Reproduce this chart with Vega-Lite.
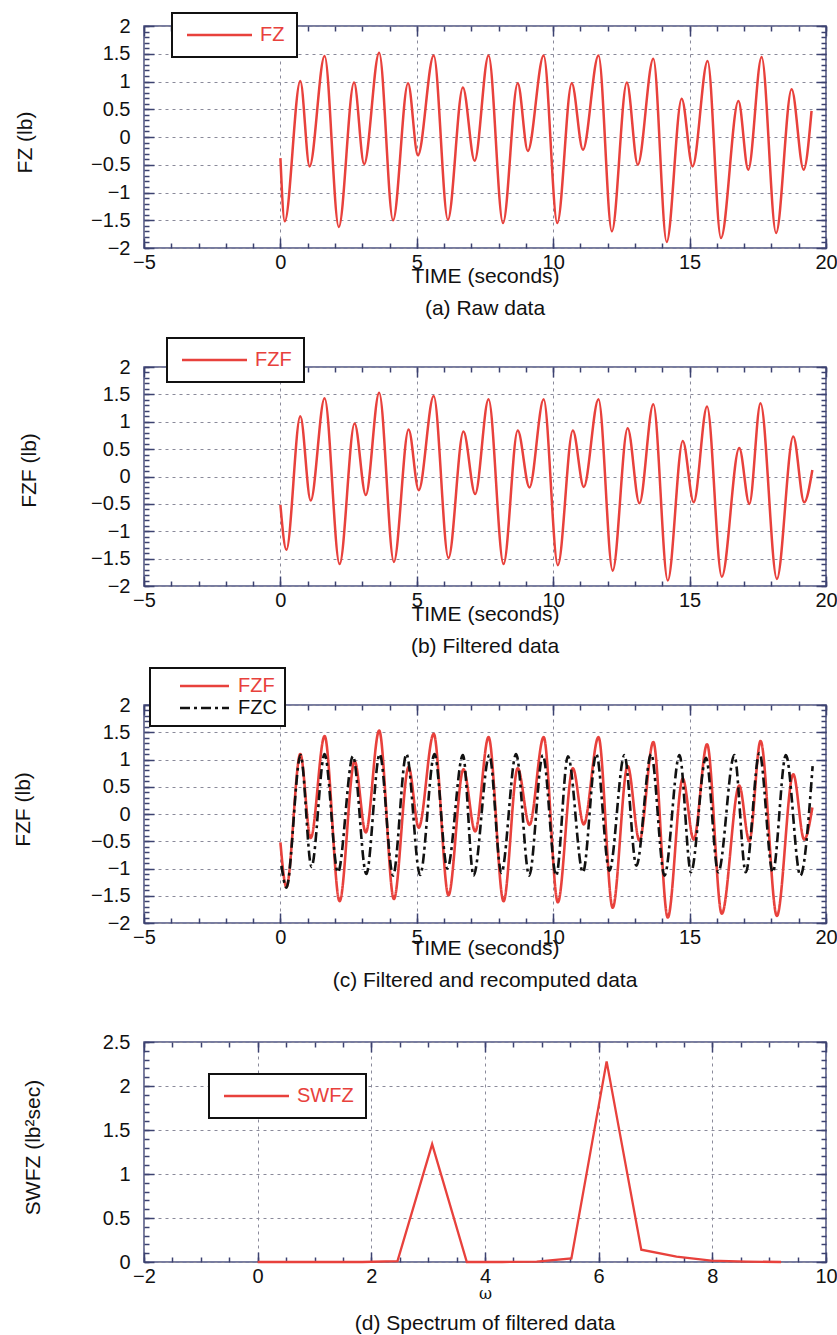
{
  "$schema": "https://vega.github.io/schema/vega-lite/v6.json",
  "background": "white",
  "padding": {"left": 11, "top": 11, "right": 2, "bottom": 2},
  "bounds": "flush",
  "spacing": 119,
  "resolve": {"scale": {"color": "independent", "strokeDash": "independent"}, "legend": {"color": "independent", "strokeDash": "independent"}},
  "config": {
    "font": "Liberation Sans",
    "view": {"stroke": "#4c5280", "strokeWidth": 1.5},
    "axis": {"domain": false, "grid": false, "labelFlush": false, "labelOverlap": false, "tickColor": "#3c4270", "tickWidth": 1.5, "gridColor": "#8a8a9a", "gridDash": [3, 4], "gridWidth": 1, "labelFont": "Liberation Sans", "labelFontSize": 20, "labelColor": "#111111", "titleFont": "Liberation Sans", "titleFontSize": 21, "titleFontWeight": "normal", "titleColor": "#111111"},
    "title": {"orient": "bottom", "anchor": "middle", "frame": "group", "fontSize": 21, "fontWeight": "normal", "font": "Liberation Sans", "color": "#111111", "offset": 12, "baseline": "top"},
    "legend": {"labelFont": "Liberation Sans", "labelFontSize": 20, "strokeColor": "#111111", "fillColor": "white", "padding": 12, "symbolStrokeWidth": 2.5, "symbolSize": 16, "symbolOffset": -5, "labelOffset": 61, "rowPadding": 2, "cornerRadius": 0}
  },
  "datasets": {
    "waves": [
      {"s": "FZ", "t": 0, "v": -0.38}, {"s": "FZ", "t": 0.16, "v": -1.52}, {"s": "FZ", "t": 0.73, "v": 1.01}, {"s": "FZ", "t": 1.07, "v": -0.53}, {"s": "FZ", "t": 1.62, "v": 1.46}, {"s": "FZ", "t": 2.14, "v": -1.62}, {"s": "FZ", "t": 2.7, "v": 0.98}, {"s": "FZ", "t": 3.07, "v": -0.49}, {"s": "FZ", "t": 3.62, "v": 1.52}, {"s": "FZ", "t": 4.13, "v": -1.5}, {"s": "FZ", "t": 4.68, "v": 0.97}, {"s": "FZ", "t": 5.04, "v": -0.33}, {"s": "FZ", "t": 5.62, "v": 1.47}, {"s": "FZ", "t": 6.14, "v": -1.49}, {"s": "FZ", "t": 6.69, "v": 0.89}, {"s": "FZ", "t": 7.12, "v": -0.43}, {"s": "FZ", "t": 7.63, "v": 1.47}, {"s": "FZ", "t": 8.16, "v": -1.55}, {"s": "FZ", "t": 8.7, "v": 0.97}, {"s": "FZ", "t": 9.07, "v": -0.25}, {"s": "FZ", "t": 9.65, "v": 1.47}, {"s": "FZ", "t": 10.15, "v": -1.55}, {"s": "FZ", "t": 10.68, "v": 0.97}, {"s": "FZ", "t": 11.09, "v": -0.23}, {"s": "FZ", "t": 11.66, "v": 1.47}, {"s": "FZ", "t": 12.15, "v": -1.7}, {"s": "FZ", "t": 12.7, "v": 0.98}, {"s": "FZ", "t": 13.1, "v": -0.5}, {"s": "FZ", "t": 13.67, "v": 1.41}, {"s": "FZ", "t": 14.16, "v": -1.89}, {"s": "FZ", "t": 14.71, "v": 0.69}, {"s": "FZ", "t": 15.11, "v": -0.53}, {"s": "FZ", "t": 15.66, "v": 1.37}, {"s": "FZ", "t": 16.15, "v": -1.82}, {"s": "FZ", "t": 16.79, "v": 0.65}, {"s": "FZ", "t": 17.15, "v": -0.59}, {"s": "FZ", "t": 17.64, "v": 1.44}, {"s": "FZ", "t": 18.17, "v": -1.73}, {"s": "FZ", "t": 18.74, "v": 0.86}, {"s": "FZ", "t": 19.18, "v": -0.59}, {"s": "FZ", "t": 19.47, "v": 0.47},
      {"s": "FZF", "t": 0, "v": -0.52}, {"s": "FZF", "t": 0.22, "v": -1.34}, {"s": "FZF", "t": 0.73, "v": 1.1}, {"s": "FZF", "t": 1.11, "v": -0.44}, {"s": "FZF", "t": 1.62, "v": 1.43}, {"s": "FZF", "t": 2.17, "v": -1.6}, {"s": "FZF", "t": 2.72, "v": 0.97}, {"s": "FZF", "t": 3.13, "v": -0.34}, {"s": "FZF", "t": 3.62, "v": 1.53}, {"s": "FZF", "t": 4.16, "v": -1.56}, {"s": "FZF", "t": 4.7, "v": 0.86}, {"s": "FZF", "t": 5.07, "v": -0.25}, {"s": "FZF", "t": 5.62, "v": 1.47}, {"s": "FZF", "t": 6.16, "v": -1.49}, {"s": "FZF", "t": 6.71, "v": 0.82}, {"s": "FZF", "t": 7.14, "v": -0.32}, {"s": "FZF", "t": 7.63, "v": 1.41}, {"s": "FZF", "t": 8.18, "v": -1.6}, {"s": "FZF", "t": 8.7, "v": 0.84}, {"s": "FZF", "t": 9.13, "v": -0.2}, {"s": "FZF", "t": 9.65, "v": 1.41}, {"s": "FZF", "t": 10.17, "v": -1.62}, {"s": "FZF", "t": 10.72, "v": 0.84}, {"s": "FZF", "t": 11.12, "v": -0.19}, {"s": "FZF", "t": 11.66, "v": 1.41}, {"s": "FZF", "t": 12.18, "v": -1.72}, {"s": "FZF", "t": 12.73, "v": 0.88}, {"s": "FZF", "t": 13.16, "v": -0.49}, {"s": "FZF", "t": 13.67, "v": 1.32}, {"s": "FZF", "t": 14.2, "v": -1.9}, {"s": "FZF", "t": 14.75, "v": 0.65}, {"s": "FZF", "t": 15.15, "v": -0.47}, {"s": "FZF", "t": 15.64, "v": 1.28}, {"s": "FZF", "t": 16.18, "v": -1.83}, {"s": "FZF", "t": 16.82, "v": 0.52}, {"s": "FZF", "t": 17.19, "v": -0.5}, {"s": "FZF", "t": 17.6, "v": 1.34}, {"s": "FZF", "t": 18.2, "v": -1.87}, {"s": "FZF", "t": 18.8, "v": 0.73}, {"s": "FZF", "t": 19.2, "v": -0.47}, {"s": "FZF", "t": 19.5, "v": 0.12},
      {"s": "FZC", "t": 0.04, "v": -0.95}, {"s": "FZC", "t": 0.22, "v": -1.35}, {"s": "FZC", "t": 0.74, "v": 1.08}, {"s": "FZC", "t": 1.14, "v": -0.97}, {"s": "FZC", "t": 1.62, "v": 1.1}, {"s": "FZC", "t": 2.11, "v": -1.07}, {"s": "FZC", "t": 2.66, "v": 1.06}, {"s": "FZC", "t": 3.15, "v": -1.1}, {"s": "FZC", "t": 3.64, "v": 1.1}, {"s": "FZC", "t": 4.13, "v": -1.13}, {"s": "FZC", "t": 4.62, "v": 1.1}, {"s": "FZC", "t": 5.12, "v": -1.12}, {"s": "FZC", "t": 5.65, "v": 1.1}, {"s": "FZC", "t": 6.12, "v": -1.0}, {"s": "FZC", "t": 6.69, "v": 1.08}, {"s": "FZC", "t": 7.08, "v": -1.13}, {"s": "FZC", "t": 7.66, "v": 1.08}, {"s": "FZC", "t": 8.1, "v": -1.08}, {"s": "FZC", "t": 8.64, "v": 1.1}, {"s": "FZC", "t": 9.12, "v": -1.13}, {"s": "FZC", "t": 9.62, "v": 1.08}, {"s": "FZC", "t": 10.11, "v": -1.13}, {"s": "FZC", "t": 10.54, "v": 1.06}, {"s": "FZC", "t": 11.09, "v": -1.07}, {"s": "FZC", "t": 11.58, "v": 1.1}, {"s": "FZC", "t": 12.06, "v": -1.04}, {"s": "FZC", "t": 12.61, "v": 1.08}, {"s": "FZC", "t": 13.05, "v": -0.95}, {"s": "FZC", "t": 13.59, "v": 1.1}, {"s": "FZC", "t": 14.08, "v": -1.13}, {"s": "FZC", "t": 14.63, "v": 1.08}, {"s": "FZC", "t": 15.05, "v": -1.07}, {"s": "FZC", "t": 15.6, "v": 1.03}, {"s": "FZC", "t": 16.05, "v": -1.07}, {"s": "FZC", "t": 16.64, "v": 1.08}, {"s": "FZC", "t": 17.06, "v": -1.07}, {"s": "FZC", "t": 17.56, "v": 1.12}, {"s": "FZC", "t": 18.05, "v": -1.07}, {"s": "FZC", "t": 18.53, "v": 1.08}, {"s": "FZC", "t": 19.06, "v": -1.13}, {"s": "FZC", "t": 19.51, "v": 0.88}
    ],
    "spectrum": [
      {"s": "SWFZ", "w": 0, "S": 0}, {"s": "SWFZ", "w": 0.61, "S": 0}, {"s": "SWFZ", "w": 1.23, "S": 0}, {"s": "SWFZ", "w": 1.84, "S": 0}, {"s": "SWFZ", "w": 2.46, "S": 0.01}, {"s": "SWFZ", "w": 3.07, "S": 1.34}, {"s": "SWFZ", "w": 3.68, "S": 0}, {"s": "SWFZ", "w": 4.3, "S": 0}, {"s": "SWFZ", "w": 4.91, "S": 0.005}, {"s": "SWFZ", "w": 5.52, "S": 0.04}, {"s": "SWFZ", "w": 6.14, "S": 2.28}, {"s": "SWFZ", "w": 6.75, "S": 0.14}, {"s": "SWFZ", "w": 7.37, "S": 0.06}, {"s": "SWFZ", "w": 7.98, "S": 0.015}, {"s": "SWFZ", "w": 8.6, "S": 0.005}, {"s": "SWFZ", "w": 9.21, "S": 0}
    ]
  },
  "vconcat": [
    {
      "width": 682, "height": 222,
      "title": {"text": "(a) Raw data"},
      "data": {"name": "waves"},
      "transform": [{"filter": "datum.s === 'FZ'"}],
      "resolve": {"axis": {"x": "independent", "y": "independent"}},
      "layer": [
        {
          "mark": {"type": "line", "interpolate": "monotone", "strokeWidth": 2.5},
          "encoding": {
            "x": {"field": "t", "type": "quantitative", "scale": {"domain": [-5, 20], "nice": false, "zero": false},
                  "axis": {"orient": "bottom", "values": [-5, 0, 5, 10, 15, 20], "labelExpr": "format(datum.value, '~g')", "grid": true, "tickSize": -10, "labelPadding": 14, "title": "TIME (seconds)", "titleY": 34, "titleBaseline": "alphabetic"}},
            "y": {"field": "v", "type": "quantitative", "scale": {"domain": [-2, 2], "nice": false, "zero": false},
                  "axis": {"orient": "left", "values": [-2, -1.5, -1, -0.5, 0, 0.5, 1, 1.5, 2], "labelExpr": "format(datum.value, '~g')", "grid": true, "tickSize": -10, "labelPadding": 24, "title": "FZ (lb)", "titleX": -119, "titleY": 116, "titleAngle": -90, "titleAlign": "center", "titleBaseline": "middle"}},
            "color": {"field": "s", "type": "nominal", "scale": {"domain": ["FZ"], "range": ["#e8413c"]},
                      "legend": {"title": null, "orient": "none", "legendX": 28, "legendY": -13, "symbolType": "M-1,0H31.5", "labelColor": "#e8413c", "encode": {"legend": {"update": {"strokeWidth": {"value": 2}}}}}}
          }
        },
        {
          "mark": {"type": "line", "strokeOpacity": 0},
          "encoding": {
            "x": {"field": "t", "type": "quantitative", "scale": {"domain": [-5, 20], "nice": false, "zero": false},
                  "axis": {"orient": "bottom", "values": [-5,-4,-3,-2,-1,0,1,2,3,4,5,6,7,8,9,10,11,12,13,14,15,16,17,18,19,20], "labels": false, "tickSize": -5, "title": null}},
            "y": {"field": "v", "type": "quantitative", "scale": {"domain": [-2, 2], "nice": false, "zero": false},
                  "axis": {"orient": "left", "values": [-2,-1.9,-1.8,-1.7,-1.6,-1.5,-1.4,-1.3,-1.2,-1.1,-1,-0.9,-0.8,-0.7,-0.6,-0.5,-0.4,-0.3,-0.2,-0.1,0,0.1,0.2,0.3,0.4,0.5,0.6,0.7,0.8,0.9,1,1.1,1.2,1.3,1.4,1.5,1.6,1.7,1.8,1.9,2], "labels": false, "tickSize": -5, "title": null}}
          }
        },
        {
          "mark": {"type": "line", "strokeOpacity": 0},
          "encoding": {
            "x": {"field": "t", "type": "quantitative", "scale": {"domain": [-5, 20], "nice": false, "zero": false},
                  "axis": {"orient": "top", "values": [-5, 0, 5, 10, 15, 20], "labels": false, "tickSize": -10, "title": null}},
            "y": {"field": "v", "type": "quantitative", "scale": {"domain": [-2, 2], "nice": false, "zero": false},
                  "axis": {"orient": "right", "values": [-2, -1.5, -1, -0.5, 0, 0.5, 1, 1.5, 2], "labels": false, "tickSize": -10, "title": null}}
          }
        },
        {
          "mark": {"type": "line", "strokeOpacity": 0},
          "encoding": {
            "x": {"field": "t", "type": "quantitative", "scale": {"domain": [-5, 20], "nice": false, "zero": false},
                  "axis": {"orient": "top", "values": [-5,-4,-3,-2,-1,0,1,2,3,4,5,6,7,8,9,10,11,12,13,14,15,16,17,18,19,20], "labels": false, "tickSize": -5, "title": null}},
            "y": {"field": "v", "type": "quantitative", "scale": {"domain": [-2, 2], "nice": false, "zero": false},
                  "axis": {"orient": "right", "values": [-2,-1.9,-1.8,-1.7,-1.6,-1.5,-1.4,-1.3,-1.2,-1.1,-1,-0.9,-0.8,-0.7,-0.6,-0.5,-0.4,-0.3,-0.2,-0.1,0,0.1,0.2,0.3,0.4,0.5,0.6,0.7,0.8,0.9,1,1.1,1.2,1.3,1.4,1.5,1.6,1.7,1.8,1.9,2], "labels": false, "tickSize": -5, "title": null}}
          }
        }
      ]
    },
    {
      "width": 682, "height": 219,
      "title": {"text": "(b) Filtered data"},
      "data": {"name": "waves"},
      "transform": [{"filter": "datum.s === 'FZF'"}],
      "resolve": {"axis": {"x": "independent", "y": "independent"}},
      "layer": [
        {
          "mark": {"type": "line", "interpolate": "monotone", "strokeWidth": 2.5},
          "encoding": {
            "x": {"field": "t", "type": "quantitative", "scale": {"domain": [-5, 20], "nice": false, "zero": false},
                  "axis": {"orient": "bottom", "values": [-5, 0, 5, 10, 15, 20], "labelExpr": "format(datum.value, '~g')", "grid": true, "tickSize": -10, "labelPadding": 14, "title": "TIME (seconds)", "titleY": 34, "titleBaseline": "alphabetic"}},
            "y": {"field": "v", "type": "quantitative", "scale": {"domain": [-2, 2], "nice": false, "zero": false},
                  "axis": {"orient": "left", "values": [-2, -1.5, -1, -0.5, 0, 0.5, 1, 1.5, 2], "labelExpr": "format(datum.value, '~g')", "grid": true, "tickSize": -10, "labelPadding": 24, "title": "FZF (lb)", "titleX": -115, "titleY": 103, "titleAngle": -90, "titleAlign": "center", "titleBaseline": "middle"}},
            "color": {"field": "s", "type": "nominal", "scale": {"domain": ["FZF"], "range": ["#e8413c"]},
                      "legend": {"title": null, "orient": "none", "legendX": 23, "legendY": -29, "symbolType": "M-1,0H31.5", "labelColor": "#e8413c", "encode": {"legend": {"update": {"strokeWidth": {"value": 2}}}}}}
          }
        },
        {
          "mark": {"type": "line", "strokeOpacity": 0},
          "encoding": {
            "x": {"field": "t", "type": "quantitative", "scale": {"domain": [-5, 20], "nice": false, "zero": false},
                  "axis": {"orient": "bottom", "values": [-5,-4,-3,-2,-1,0,1,2,3,4,5,6,7,8,9,10,11,12,13,14,15,16,17,18,19,20], "labels": false, "tickSize": -5, "title": null}},
            "y": {"field": "v", "type": "quantitative", "scale": {"domain": [-2, 2], "nice": false, "zero": false},
                  "axis": {"orient": "left", "values": [-2,-1.9,-1.8,-1.7,-1.6,-1.5,-1.4,-1.3,-1.2,-1.1,-1,-0.9,-0.8,-0.7,-0.6,-0.5,-0.4,-0.3,-0.2,-0.1,0,0.1,0.2,0.3,0.4,0.5,0.6,0.7,0.8,0.9,1,1.1,1.2,1.3,1.4,1.5,1.6,1.7,1.8,1.9,2], "labels": false, "tickSize": -5, "title": null}}
          }
        },
        {
          "mark": {"type": "line", "strokeOpacity": 0},
          "encoding": {
            "x": {"field": "t", "type": "quantitative", "scale": {"domain": [-5, 20], "nice": false, "zero": false},
                  "axis": {"orient": "top", "values": [-5, 0, 5, 10, 15, 20], "labels": false, "tickSize": -10, "title": null}},
            "y": {"field": "v", "type": "quantitative", "scale": {"domain": [-2, 2], "nice": false, "zero": false},
                  "axis": {"orient": "right", "values": [-2, -1.5, -1, -0.5, 0, 0.5, 1, 1.5, 2], "labels": false, "tickSize": -10, "title": null}}
          }
        },
        {
          "mark": {"type": "line", "strokeOpacity": 0},
          "encoding": {
            "x": {"field": "t", "type": "quantitative", "scale": {"domain": [-5, 20], "nice": false, "zero": false},
                  "axis": {"orient": "top", "values": [-5,-4,-3,-2,-1,0,1,2,3,4,5,6,7,8,9,10,11,12,13,14,15,16,17,18,19,20], "labels": false, "tickSize": -5, "title": null}},
            "y": {"field": "v", "type": "quantitative", "scale": {"domain": [-2, 2], "nice": false, "zero": false},
                  "axis": {"orient": "right", "values": [-2,-1.9,-1.8,-1.7,-1.6,-1.5,-1.4,-1.3,-1.2,-1.1,-1,-0.9,-0.8,-0.7,-0.6,-0.5,-0.4,-0.3,-0.2,-0.1,0,0.1,0.2,0.3,0.4,0.5,0.6,0.7,0.8,0.9,1,1.1,1.2,1.3,1.4,1.5,1.6,1.7,1.8,1.9,2], "labels": false, "tickSize": -5, "title": null}}
          }
        }
      ]
    },
    {
      "width": 682, "height": 218,
      "title": {"text": "(c) Filtered and recomputed data"},
      "data": {"name": "waves"},
      "transform": [{"filter": "datum.s === 'FZF' || datum.s === 'FZC'"}],
      "resolve": {"axis": {"x": "independent", "y": "independent"}},
      "layer": [
        {
          "mark": {"type": "line", "interpolate": "monotone", "strokeWidth": 2.6},
          "encoding": {
            "x": {"field": "t", "type": "quantitative", "scale": {"domain": [-5, 20], "nice": false, "zero": false},
                  "axis": {"orient": "bottom", "values": [-5, 0, 5, 10, 15, 20], "labelExpr": "format(datum.value, '~g')", "grid": true, "tickSize": -10, "labelPadding": 14, "title": "TIME (seconds)", "titleY": 31, "titleBaseline": "alphabetic"}},
            "y": {"field": "v", "type": "quantitative", "scale": {"domain": [-2, 2], "nice": false, "zero": false},
                  "axis": {"orient": "left", "values": [-2, -1.5, -1, -0.5, 0, 0.5, 1, 1.5, 2], "labelExpr": "format(datum.value, '~g')", "grid": true, "tickSize": -10, "labelPadding": 24, "title": "FZF (lb)", "titleX": -121, "titleY": 104, "titleAngle": -90, "titleAlign": "center", "titleBaseline": "middle"}},
            "color": {"field": "s", "type": "nominal", "scale": {"domain": ["FZF", "FZC"], "range": ["#e8413c", "#111111"]},
                      "legend": {"title": null, "orient": "none", "legendX": 6, "legendY": -37, "padding": 8, "symbolType": "M-1,0H23.5", "symbolOffset": 14, "labelOffset": 46, "encode": {"legend": {"update": {"strokeWidth": {"value": 2}}}, "labels": {"update": {"fill": {"signal": "datum.value === 'FZF' ? '#e8413c' : '#111111'"}}}}}},
            "strokeDash": {"field": "s", "type": "nominal", "scale": {"domain": ["FZF", "FZC"], "range": [[1, 0], [10, 4, 3, 4]]},
                      "legend": {"title": null, "orient": "none", "legendX": 6, "legendY": -37, "padding": 8, "symbolType": "M-1,0H23.5", "symbolOffset": 14, "labelOffset": 46, "encode": {"legend": {"update": {"strokeWidth": {"value": 2}}}, "labels": {"update": {"fill": {"signal": "datum.value === 'FZF' ? '#e8413c' : '#111111'"}}}}}}
          }
        },
        {
          "mark": {"type": "line", "strokeOpacity": 0},
          "encoding": {
            "x": {"field": "t", "type": "quantitative", "scale": {"domain": [-5, 20], "nice": false, "zero": false},
                  "axis": {"orient": "bottom", "values": [-5,-4,-3,-2,-1,0,1,2,3,4,5,6,7,8,9,10,11,12,13,14,15,16,17,18,19,20], "labels": false, "tickSize": -5, "title": null}},
            "y": {"field": "v", "type": "quantitative", "scale": {"domain": [-2, 2], "nice": false, "zero": false},
                  "axis": {"orient": "left", "values": [-2,-1.9,-1.8,-1.7,-1.6,-1.5,-1.4,-1.3,-1.2,-1.1,-1,-0.9,-0.8,-0.7,-0.6,-0.5,-0.4,-0.3,-0.2,-0.1,0,0.1,0.2,0.3,0.4,0.5,0.6,0.7,0.8,0.9,1,1.1,1.2,1.3,1.4,1.5,1.6,1.7,1.8,1.9,2], "labels": false, "tickSize": -5, "title": null}}
          }
        },
        {
          "mark": {"type": "line", "strokeOpacity": 0},
          "encoding": {
            "x": {"field": "t", "type": "quantitative", "scale": {"domain": [-5, 20], "nice": false, "zero": false},
                  "axis": {"orient": "top", "values": [-5, 0, 5, 10, 15, 20], "labels": false, "tickSize": -10, "title": null}},
            "y": {"field": "v", "type": "quantitative", "scale": {"domain": [-2, 2], "nice": false, "zero": false},
                  "axis": {"orient": "right", "values": [-2, -1.5, -1, -0.5, 0, 0.5, 1, 1.5, 2], "labels": false, "tickSize": -10, "title": null}}
          }
        },
        {
          "mark": {"type": "line", "strokeOpacity": 0},
          "encoding": {
            "x": {"field": "t", "type": "quantitative", "scale": {"domain": [-5, 20], "nice": false, "zero": false},
                  "axis": {"orient": "top", "values": [-5,-4,-3,-2,-1,0,1,2,3,4,5,6,7,8,9,10,11,12,13,14,15,16,17,18,19,20], "labels": false, "tickSize": -5, "title": null}},
            "y": {"field": "v", "type": "quantitative", "scale": {"domain": [-2, 2], "nice": false, "zero": false},
                  "axis": {"orient": "right", "values": [-2,-1.9,-1.8,-1.7,-1.6,-1.5,-1.4,-1.3,-1.2,-1.1,-1,-0.9,-0.8,-0.7,-0.6,-0.5,-0.4,-0.3,-0.2,-0.1,0,0.1,0.2,0.3,0.4,0.5,0.6,0.7,0.8,0.9,1,1.1,1.2,1.3,1.4,1.5,1.6,1.7,1.8,1.9,2], "labels": false, "tickSize": -5, "title": null}}
          }
        }
      ]
    },
    {
      "width": 682, "height": 220,
      "title": {"text": "(d) Spectrum of filtered data"},
      "data": {"name": "spectrum"},
      "resolve": {"axis": {"x": "independent", "y": "independent"}},
      "layer": [
        {
          "mark": {"type": "line", "strokeWidth": 2.3},
          "encoding": {
            "x": {"field": "w", "type": "quantitative", "scale": {"domain": [-2, 10], "nice": false, "zero": false},
                  "axis": {"orient": "bottom", "values": [-2, 0, 2, 4, 6, 8, 10], "labelExpr": "format(datum.value, '~g')", "grid": true, "tickSize": -10, "labelPadding": 14, "title": "ω", "titleFont": "DejaVu Serif", "titleFontSize": 16, "titleY": 36, "titleBaseline": "alphabetic"}},
            "y": {"field": "S", "type": "quantitative", "scale": {"domain": [0, 2.5], "nice": false, "zero": false},
                  "axis": {"orient": "left", "values": [0, 0.5, 1, 1.5, 2, 2.5], "labelExpr": "format(datum.value, '~g')", "grid": true, "tickSize": -10, "labelPadding": 24, "title": "SWFZ (lb²sec)", "titleX": -111, "titleY": 105, "titleAngle": -90, "titleAlign": "center", "titleBaseline": "middle"}},
            "color": {"field": "s", "type": "nominal", "scale": {"domain": ["SWFZ"], "range": ["#e8413c"]},
                      "legend": {"title": null, "orient": "none", "legendX": 65, "legendY": 32, "symbolType": "M-1,0H31.5", "labelColor": "#e8413c", "encode": {"legend": {"update": {"strokeWidth": {"value": 2}}}}}}
          }
        },
        {
          "mark": {"type": "line", "strokeOpacity": 0},
          "encoding": {
            "x": {"field": "w", "type": "quantitative", "scale": {"domain": [-2, 10], "nice": false, "zero": false},
                  "axis": {"orient": "bottom", "values": [-2,-1.5,-1,-0.5,0,0.5,1,1.5,2,2.5,3,3.5,4,4.5,5,5.5,6,6.5,7,7.5,8,8.5,9,9.5,10], "labels": false, "tickSize": -5, "title": null}},
            "y": {"field": "S", "type": "quantitative", "scale": {"domain": [0, 2.5], "nice": false, "zero": false},
                  "axis": {"orient": "left", "values": [0,0.1,0.2,0.3,0.4,0.5,0.6,0.7,0.8,0.9,1,1.1,1.2,1.3,1.4,1.5,1.6,1.7,1.8,1.9,2,2.1,2.2,2.3,2.4,2.5], "labels": false, "tickSize": -5, "title": null}}
          }
        },
        {
          "mark": {"type": "line", "strokeOpacity": 0},
          "encoding": {
            "x": {"field": "w", "type": "quantitative", "scale": {"domain": [-2, 10], "nice": false, "zero": false},
                  "axis": {"orient": "top", "values": [-2, 0, 2, 4, 6, 8, 10], "labels": false, "tickSize": -10, "title": null}},
            "y": {"field": "S", "type": "quantitative", "scale": {"domain": [0, 2.5], "nice": false, "zero": false},
                  "axis": {"orient": "right", "values": [0, 0.5, 1, 1.5, 2, 2.5], "labels": false, "tickSize": -10, "title": null}}
          }
        },
        {
          "mark": {"type": "line", "strokeOpacity": 0},
          "encoding": {
            "x": {"field": "w", "type": "quantitative", "scale": {"domain": [-2, 10], "nice": false, "zero": false},
                  "axis": {"orient": "top", "values": [-2,-1.5,-1,-0.5,0,0.5,1,1.5,2,2.5,3,3.5,4,4.5,5,5.5,6,6.5,7,7.5,8,8.5,9,9.5,10], "labels": false, "tickSize": -5, "title": null}},
            "y": {"field": "S", "type": "quantitative", "scale": {"domain": [0, 2.5], "nice": false, "zero": false},
                  "axis": {"orient": "right", "values": [0,0.1,0.2,0.3,0.4,0.5,0.6,0.7,0.8,0.9,1,1.1,1.2,1.3,1.4,1.5,1.6,1.7,1.8,1.9,2,2.1,2.2,2.3,2.4,2.5], "labels": false, "tickSize": -5, "title": null}}
          }
        }
      ]
    }
  ]
}
